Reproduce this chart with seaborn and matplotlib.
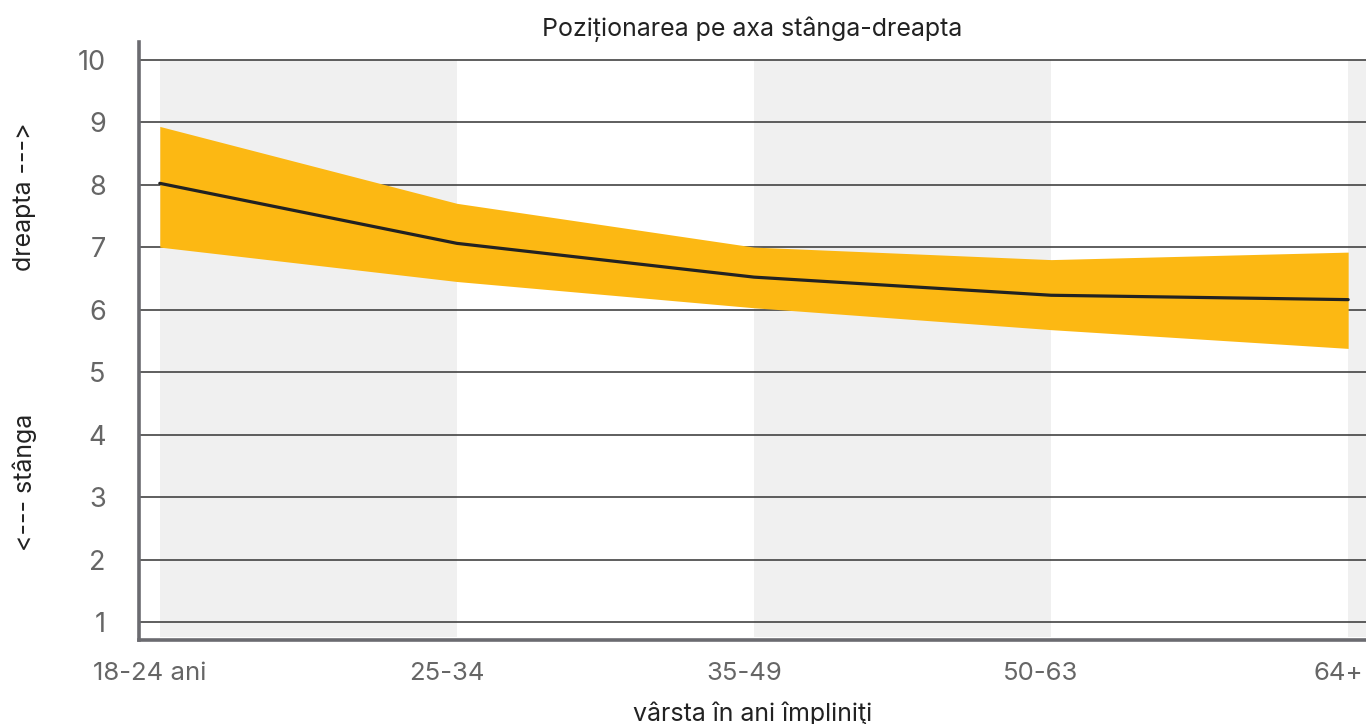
import numpy as np
import pandas as pd
import matplotlib
matplotlib.use('Agg')
from matplotlib import pyplot as plt
from matplotlib import transforms
import seaborn as sns

# date
categorii = ['18-24 ani', '25-34', '35-49', '50-63', '64+']
medie = [8.02, 7.06, 6.52, 6.23, 6.16]
limita_sus = [8.93, 7.70, 7.00, 6.80, 6.92]
limita_jos = [7.00, 6.45, 6.03, 5.68, 5.38]
y_ticks = [1, 2, 3, 4, 5, 6, 7, 8, 9, 10]

df = pd.DataFrame({'poz': np.arange(len(categorii)), 'medie': medie,
                   'sus': limita_sus, 'jos': limita_jos})

sns.set_style('white')
plt.rcParams['font.family'] = ['Inter', 'DejaVu Sans']

fig = plt.figure(figsize=(13.66, 7.24), dpi=100)
ax = fig.add_axes([139 / 1366, 1 - 640 / 724, 1 - 139 / 1366, (640 - 42) / 724])

ymin, ymax = 0.717, 10.28
ax.set_xlim(-0.07, 4.06)
ax.set_ylim(ymin, ymax)

# benzi gri alternante
for i in range(0, len(categorii), 2):
    ax.fill_between([i, i + 1], ymin + 0.05, 10, color='#f0f0f0', lw=0, zorder=0.1)

ax.fill_between(df['poz'], df['jos'], df['sus'], color='#fcb813', lw=0, zorder=2)
sns.lineplot(data=df, x='poz', y='medie', color='#222222', lw=2.3, ax=ax, zorder=3)

ax.set_yticks(y_ticks)
ax.set_xticks(df['poz'])
ax.set_xticklabels(categorii)
ax.yaxis.grid(True, color='#333333', lw=1.1)
ax.set_axisbelow(True)
ax.tick_params(axis='y', length=12, width=1.1, color='#333333', labelsize=19.5,
               labelcolor='#666666', pad=12)
ax.tick_params(axis='x', length=0, labelsize=18.5, labelcolor='#666666', pad=16)
off = transforms.ScaledTranslation(-10 / 100, 0, fig.dpi_scale_trans)
for lbl in ax.get_xticklabels():
    lbl.set_transform(lbl.get_transform() + off)

for s in ['top', 'right']:
    ax.spines[s].set_visible(False)
for s in ['left', 'bottom']:
    ax.spines[s].set_color('#6b6b70')
    ax.spines[s].set_linewidth(2.6)
    ax.spines[s].set_zorder(4)

ax.set_xlabel('vârsta în ani împliniţi', fontsize=18, color='#222222', labelpad=12)
ax.set_ylabel('')
ax.set_title('Poziționarea pe axa stânga-dreapta', fontsize=18, color='#222222', pad=4)

fig.text(25 / 1366, 1 - 197 / 724, 'dreapta --->', rotation=90, ha='center', va='center',
         fontsize=18, color='#222222')
fig.text(25 / 1366, 1 - 482 / 724, '<--- stânga', rotation=90, ha='center', va='center',
         fontsize=18, color='#222222')

plt.savefig('out.png', dpi=100)
